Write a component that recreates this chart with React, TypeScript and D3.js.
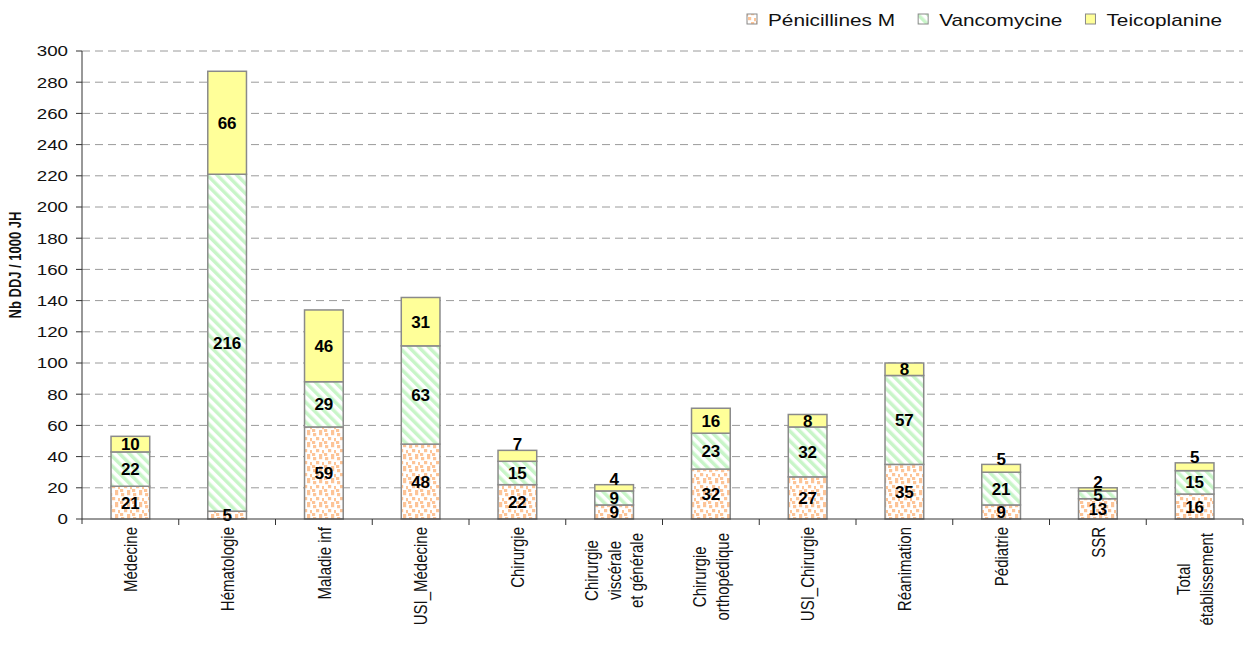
import React, { useEffect } from "react";
import * as d3 from "d3";

const categories = [
  "Médecine",
  "Hématologie",
  "Maladie inf",
  "USI_Médecine",
  "Chirurgie",
  "Chirurgie\nviscérale\net générale",
  "Chirurgie\northopédique",
  "USI_Chirurgie",
  "Réanimation",
  "Pédiatrie",
  "SSR",
  "Total\nétablissement",
];
const penicillinesM = [21, 5, 59, 48, 22, 9, 32, 27, 35, 9, 13, 16];
const vancomycine = [22, 216, 29, 63, 15, 9, 23, 32, 57, 21, 5, 15];
const teicoplanine = [10, 66, 46, 31, 7, 4, 16, 8, 8, 5, 2, 5];
const seriesNames = ["Pénicillines M", "Vancomycine", "Teicoplanine"];
const yTickValues = [0, 20, 40, 60, 80, 100, 120, 140, 160, 180, 200, 220, 240, 260, 280, 300];
const yTitle = "Nb DDJ / 1000 JH";

const W = 1244;
const H = 650;
const left = 82;
const right = 1243;
const top = 51;
const bottom = 519;
const STRETCH = 1.25;
const LEGEND_STRETCH = 1.3;

const fills = ["url(#penPat)", "url(#vanPat)", "#FFFF99"];

let ctx: CanvasRenderingContext2D | null = null;
function measure(text: string, font: string): number {
  if (!ctx) ctx = document.createElement("canvas").getContext("2d");
  if (!ctx) return text.length * 7;
  ctx.font = font;
  return ctx.measureText(text).width;
}

export default function App() {
  useEffect(() => {
    document.body.style.margin = "0";
  }, []);

  const x = d3
    .scaleBand<string>()
    .domain(categories)
    .range([left, right])
    .paddingInner(0.6)
    .paddingOuter(0.3);
  const step = x.step();
  const y = d3.scaleLinear().domain([0, 300]).range([bottom, top]);

  const rows = categories.map((c, i) => ({
    cat: c,
    s0: penicillinesM[i],
    s1: vancomycine[i],
    s2: teicoplanine[i],
  }));
  const stack = d3.stack<any>().keys(["s0", "s1", "s2"]);
  const layers = stack(rows);

  const catSize = 15;
  const catFont = `${catSize}px 'Liberation Sans', Arial, sans-serif`;
  const legendFont = "16px 'Liberation Sans', Arial, sans-serif";

  // legend layout
  let lx = 747;
  const legendItems = seriesNames.map((n, i) => {
    const item = { name: n, x: lx, fill: fills[i] };
    const tw = measure(n, legendFont) * LEGEND_STRETCH;
    lx += 10 + 11 + tw + 23;
    return item;
  });

  return (
    <svg
      width={W}
      height={H}
      style={{ position: "absolute", left: 0, top: 0, display: "block", background: "#fff" }}
      fontFamily="'Liberation Sans', Arial, sans-serif"
    >
      <defs>
        <pattern id="penPat" patternUnits="userSpaceOnUse" width={12} height={12}>
          <rect width={12} height={12} fill="#fff" />
          {[
            [1, 1],
            [7, 0],
            [4, 5],
            [10, 6],
            [0, 9],
            [7, 10],
          ].map(([px, py], k) => (
            <rect key={k} x={px} y={py} width={3.2} height={3.2} fill="#FDC497" />
          ))}
        </pattern>
        <pattern
          id="vanPat"
          patternUnits="userSpaceOnUse"
          width={7}
          height={7}
          patternTransform="rotate(-45)"
        >
          <rect width={7} height={7} fill="#fff" />
          <rect width={3.5} height={7} fill="#C8F5C8" />
        </pattern>
      </defs>

      {/* gridlines */}
      {yTickValues
        .filter((v) => v > 0)
        .map((v) => (
          <line
            key={"g" + v}
            x1={left}
            x2={right}
            y1={y(v)}
            y2={y(v)}
            stroke="#9a9a9a"
            strokeDasharray="8,5"
            strokeWidth={1}
          />
        ))}

      {/* bars */}
      {layers.map((layer, li) =>
        layer.map((d, i) => {
          const x0 = x(categories[i]) as number;
          const y0 = y(d[1]);
          const h = y(d[0]) - y(d[1]);
          return (
            <rect
              key={`b${li}-${i}`}
              x={x0}
              y={y0}
              width={x.bandwidth()}
              height={h}
              fill={fills[li]}
              stroke="#8a8a8a"
              strokeWidth={1.5}
            />
          );
        })
      )}

      {/* value labels */}
      {layers.map((layer, li) =>
        layer.map((d, i) => {
          const cx = (x(categories[i]) as number) + x.bandwidth() / 2;
          const val = d[1] - d[0];
          const h = y(d[0]) - y(d[1]);
          let cy = (y(d[0]) + y(d[1])) / 2;
          if (li === 2 && h < 11.5) cy = y(d[1]) - 6;
          return (
            <text
              key={`l${li}-${i}`}
              x={cx}
              y={cy}
              dy="0.36em"
              textAnchor="middle"
              fontSize={17}
              fontWeight="bold"
              fill="#000"
            >
              {Math.round(val)}
            </text>
          );
        })
      )}

      {/* axes */}
      <line x1={left} x2={left} y1={top} y2={bottom + 5} stroke="#333" strokeWidth={1} />
      <line x1={left} x2={right} y1={bottom} y2={bottom} stroke="#333" strokeWidth={1} />
      {yTickValues.map((v) => (
        <g key={"t" + v}>
          <line x1={left - 6} x2={left} y1={y(v)} y2={y(v)} stroke="#333" />
          <text
            transform={`translate(68,${y(v)}) scale(${STRETCH},1)`}
            textAnchor="end"
            dy="0.36em"
            fontSize={15}
            fill="#111"
          >
            {v}
          </text>
        </g>
      ))}
      {categories.map((c, i) => {
        const xr = left + step * (i + 1);
        return <line key={"xt" + i} x1={xr} x2={xr} y1={bottom} y2={bottom + 6} stroke="#333" />;
      })}

      {/* category labels */}
      {categories.map((c, i) => {
        const cx = (x(c) as number) + x.bandwidth() / 2;
        const lines = c.split("\n");
        if (lines.length === 1) {
          return (
            <text
              key={"c" + i}
              transform={`translate(${cx},527) scale(${STRETCH},1) rotate(-90)`}
              textAnchor="end"
              dy="0.36em"
              fontSize={catSize}
              fill="#111"
            >
              {c}
            </text>
          );
        }
        const maxLen = d3.max(lines, (l) => measure(l, catFont)) || 0;
        const center = 533 + maxLen / 2;
        const lh = 18;
        return (
          <g key={"c" + i} transform={`translate(${cx},${center}) scale(${STRETCH},1) rotate(-90)`}>
            {lines.map((l, k) => (
              <text
                key={k}
                x={0}
                y={(k - (lines.length - 1) / 2) * lh}
                dy="0.36em"
                textAnchor="middle"
                fontSize={catSize}
                fill="#111"
              >
                {l}
              </text>
            ))}
          </g>
        );
      })}

      {/* y title */}
      <text
        transform={`translate(15,265) scale(${STRETCH},1) rotate(-90)`}
        textAnchor="middle"
        dy="0.36em"
        fontSize={13}
        fontWeight="bold"
        fill="#111"
      >
        {yTitle}
      </text>

      {/* legend */}
      {legendItems.map((it) => (
        <g key={it.name}>
          <rect x={it.x} y={14} width={10} height={10} fill={it.fill} stroke="#8a8a8a" strokeWidth={1} />
          <text
            transform={`translate(${it.x + 21},26) scale(${LEGEND_STRETCH},1)`}
            fontSize={16}
            fill="#111"
          >
            {it.name}
          </text>
        </g>
      ))}
    </svg>
  );
}
